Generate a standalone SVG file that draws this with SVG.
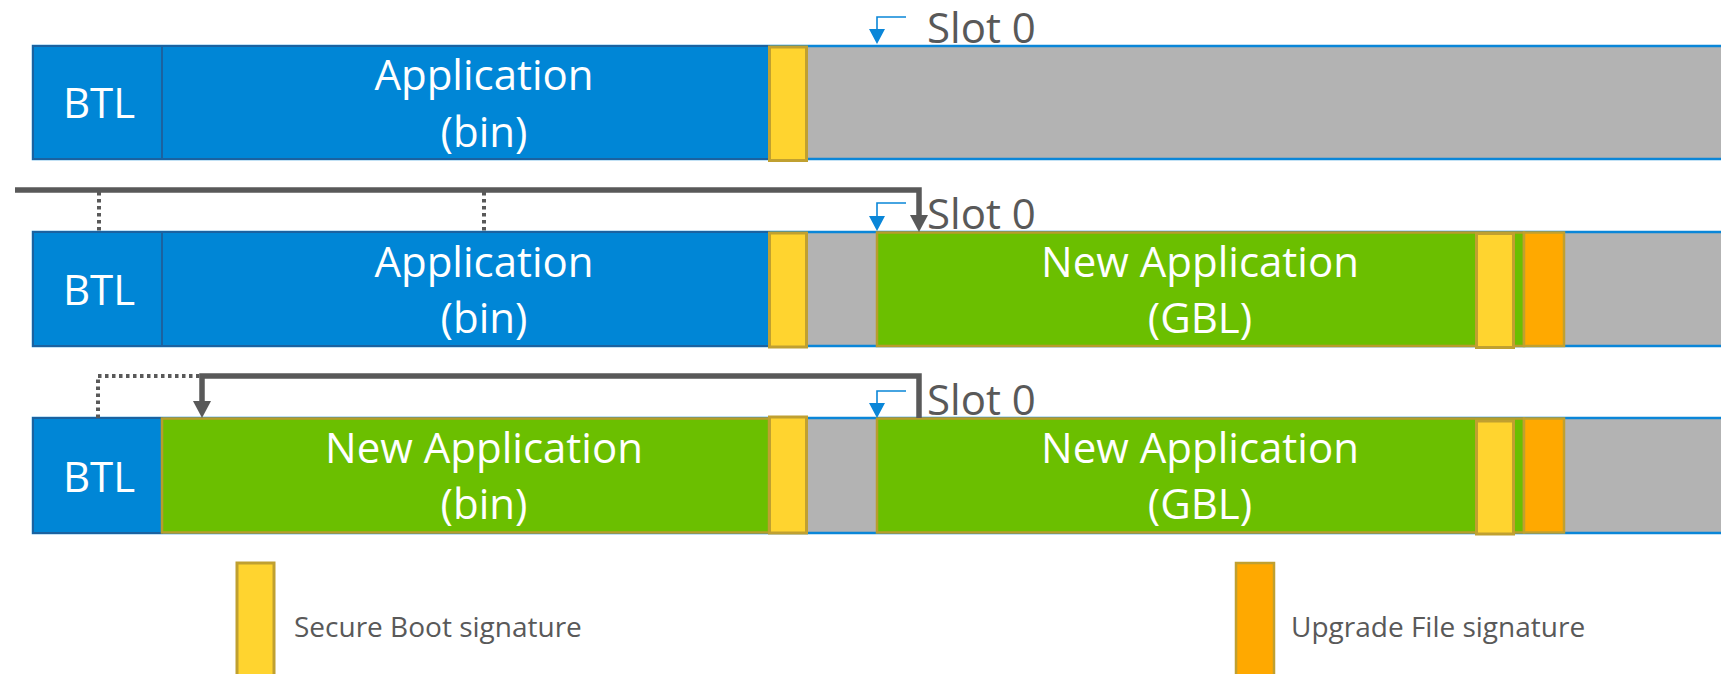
<svg xmlns="http://www.w3.org/2000/svg" width="1721" height="674" viewBox="0 0 1721 674">
  <style>
    .bar { fill: #b3b3b3; stroke: #0a86d8; stroke-width: 2.5; }
    .blue { fill: #0086d6; stroke: #1b62a0; stroke-width: 2; }
    .green { fill: #6bbf00; stroke: #b89c2c; stroke-width: 2.5; }
    .sig { fill: #ffd42f; stroke: #c0a030; stroke-width: 3; }
    .ufs { fill: #ffa900; stroke: #c0a030; stroke-width: 2.5; }
    .lbl { font-family: "Open Sans", "Liberation Sans", sans-serif; font-size: 42px; fill: #ffffff; text-anchor: middle; }
    .slot { font-family: "Open Sans", "Liberation Sans", sans-serif; font-size: 42px; fill: #595959; }
    .legend { font-family: "Open Sans", "Liberation Sans", sans-serif; font-size: 28px; fill: #595959; }
    .ptr { fill: none; stroke: #0a86d8; stroke-width: 1.6; marker-end: url(#blueHead); }
    .copy { fill: none; stroke: #595959; stroke-width: 5.5; marker-end: url(#grayHead); }
    .dots { fill: none; stroke: #595959; stroke-width: 4; stroke-dasharray: 3.5 3.5; }
  </style>
  <defs>
    <marker id="blueHead" markerUnits="userSpaceOnUse" markerWidth="16" markerHeight="16" refX="0" refY="8" orient="auto">
      <path d="M0,0 L15,8 L0,16 z" fill="#0a86d8"/>
    </marker>
    <marker id="grayHead" markerUnits="userSpaceOnUse" markerWidth="18" markerHeight="18" refX="0" refY="9" orient="auto">
      <path d="M0,0 L17,9 L0,18 z" fill="#595959"/>
    </marker>
  </defs>

  <!-- Row 1: original flash layout -->
  <g id="row1">
    <rect class="bar" x="33" y="46" width="1700" height="113"/>
    <rect class="blue" x="33" y="46" width="129" height="113"/>
    <rect class="blue" x="162" y="46" width="607" height="113"/>
    <rect class="sig" x="769.5" y="47" width="37" height="113.5"/>
    <text class="lbl" x="99" y="118">BTL</text>
    <text class="lbl" x="484" y="90">Application</text>
    <text class="lbl" x="484" y="147">(bin)</text>
    <text class="slot" x="927" y="43">Slot 0</text>
  </g>

  <!-- Row 2: upgrade image stored in slot 0 -->
  <g id="row2">
    <rect class="bar" x="33" y="232" width="1700" height="114"/>
    <rect class="blue" x="33" y="232" width="129" height="114"/>
    <rect class="blue" x="162" y="232" width="607" height="114"/>
    <rect class="sig" x="769.5" y="233" width="37" height="114"/>
    <rect class="green" x="877" y="232.5" width="647" height="113.5"/>
    <rect class="sig" x="1476.5" y="233.5" width="37" height="114"/>
    <rect class="ufs" x="1524" y="232.5" width="40" height="113.5"/>
    <text class="lbl" x="99" y="305">BTL</text>
    <text class="lbl" x="484" y="277">Application</text>
    <text class="lbl" x="484" y="333">(bin)</text>
    <text class="lbl" x="1200" y="277">New Application</text>
    <text class="lbl" x="1200" y="333">(GBL)</text>
    <text class="slot" x="927" y="229">Slot 0</text>
  </g>

  <!-- Row 3: new application installed by the bootloader -->
  <g id="row3">
    <rect class="bar" x="33" y="418" width="1700" height="115"/>
    <rect class="blue" x="33" y="418" width="129" height="115"/>
    <rect class="green" x="162" y="418.5" width="607" height="114"/>
    <rect class="sig" x="769.5" y="417" width="37" height="116"/>
    <rect class="green" x="877" y="418.5" width="647" height="114"/>
    <rect class="sig" x="1476.5" y="421" width="37" height="113"/>
    <rect class="ufs" x="1524" y="418.5" width="40" height="114"/>
    <text class="lbl" x="99" y="492">BTL</text>
    <text class="lbl" x="484" y="463">New Application</text>
    <text class="lbl" x="484" y="519">(bin)</text>
    <text class="lbl" x="1200" y="463">New Application</text>
    <text class="lbl" x="1200" y="519">(GBL)</text>
    <text class="slot" x="927" y="415">Slot 0</text>
  </g>

  <!-- Legend -->
  <g id="legend-secure-boot">
    <rect class="sig" x="237" y="563" width="37" height="130"/>
    <text class="legend" x="294" y="637">Secure Boot signature</text>
  </g>
  <g id="legend-upgrade-file">
    <rect class="ufs" x="1236" y="563" width="38" height="130"/>
    <text class="legend" x="1291" y="637">Upgrade File signature</text>
  </g>

  <!-- Connectors -->
  <g id="connectors">
    <path class="ptr" d="M906,17 H877 V29"/>
    <path class="ptr" d="M906,203 H877 V216"/>
    <path class="ptr" d="M906,391 H877 V403"/>
    <path class="copy" d="M15,190 H919 V215"/>
    <path class="copy" d="M919,418 V376 H202 V401"/>
    <path class="dots" d="M99,192 V232"/>
    <path class="dots" d="M484,192 V232"/>
    <path class="dots" d="M98,418 V376 H200"/>
  </g>
</svg>
